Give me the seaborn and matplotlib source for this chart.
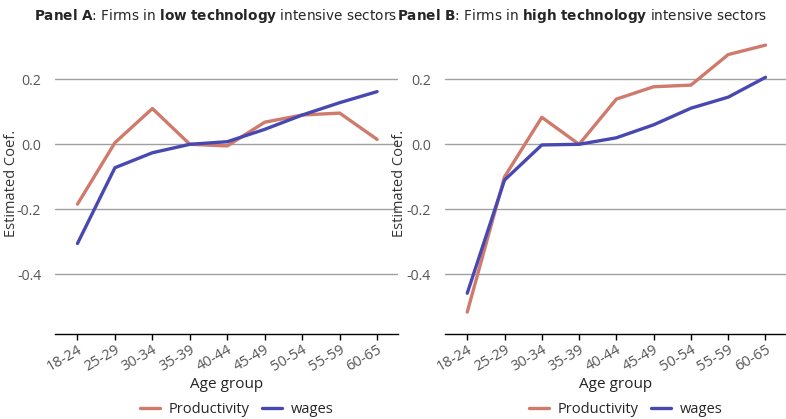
import matplotlib
matplotlib.use("Agg")
import matplotlib.pyplot as plt
import seaborn as sns
import pandas as pd

age_groups = ["18-24", "25-29", "30-34", "35-39", "40-44", "45-49", "50-54", "55-59", "60-65"]
prod_low = [-0.184, 0.005, 0.110, 0.0, -0.005, 0.068, 0.090, 0.096, 0.015]
wages_low = [-0.305, -0.072, -0.026, 0.0, 0.008, 0.046, 0.090, 0.128, 0.162]
prod_high = [-0.516, -0.100, 0.083, 0.0, 0.139, 0.177, 0.182, 0.276, 0.305]
wages_high = [-0.458, -0.110, -0.002, 0.0, 0.020, 0.060, 0.111, 0.145, 0.206]
series_names = ["Productivity", "wages"]
colors = {"Productivity": "#d07a6c", "wages": "#4848b2"}

sns.set_theme(style="white")
plt.rcParams["font.family"] = ["Open Sans", "DejaVu Sans"]
plt.rcParams["mathtext.fontset"] = "custom"
plt.rcParams["mathtext.rm"] = "DejaVu Sans"
plt.rcParams["mathtext.bf"] = "DejaVu Sans:bold"

def make_df(prod, wages):
    rows = []
    for i, a in enumerate(age_groups):
        rows.append({"age": i, "coef": prod[i], "series": series_names[0]})
        rows.append({"age": i, "coef": wages[i], "series": series_names[1]})
    return pd.DataFrame(rows)

fig = plt.figure(figsize=(7.86, 4.19), dpi=100)
ax1 = fig.add_axes([0.070, 0.204, 0.436, 0.717])
ax2 = fig.add_axes([0.566, 0.204, 0.434, 0.717])

for ax, prod, wages in [(ax1, prod_low, wages_low), (ax2, prod_high, wages_high)]:
    df = make_df(prod, wages)
    sns.lineplot(data=df, x="age", y="coef", hue="series", palette=colors,
                 linewidth=2.4, ax=ax)
    ax.set_xlim(-0.6, 8.55)
    ax.set_ylim(-0.582, 0.342)
    ax.set_yticks([-0.4, -0.2, 0.0, 0.2])
    ax.set_yticklabels(["-0.4", "-0.2", "0.0", "0.2"])
    ax.set_xticks(range(len(age_groups)))
    ax.set_xticklabels(age_groups, rotation=30, ha="right", rotation_mode="anchor")
    ax.yaxis.grid(True, color="#a0a0a0", linewidth=1.0)
    ax.set_axisbelow(True)
    for s in ["left", "right", "top"]:
        ax.spines[s].set_visible(False)
    ax.spines["bottom"].set_color("black")
    ax.spines["bottom"].set_linewidth(1.0)
    ax.tick_params(axis="x", bottom=True, length=4, width=1, color="black",
                   labelsize=10.5, labelcolor="#555555", pad=2)
    ax.tick_params(axis="y", left=False, labelsize=10.2, labelcolor="#555555", pad=4)
    ax.set_xlabel("Age group", fontsize=11, color="#222222", labelpad=2)
    ax.set_ylabel("Estimated Coef.", fontsize=10.5, color="#333333")
    ax.legend(loc="center", bbox_to_anchor=(0.53, -0.252), ncol=2,
              frameon=False, fontsize=10.5, handlelength=1.4, columnspacing=0.8,
              handletextpad=0.6, borderpad=0.1)

ax1.yaxis.set_label_coords(-0.105, 0.5)
ax2.yaxis.set_label_coords(-0.112, 0.5)

fig.text(0.274, 0.963, r"$\bf{Panel\ A}$: Firms in $\bf{low\ technology}$ intensive sectors",
         ha="center", va="center", fontsize=9.8, family="DejaVu Sans")
fig.text(0.741, 0.963, r"$\bf{Panel\ B}$: Firms in $\bf{high\ technology}$ intensive sectors",
         ha="center", va="center", fontsize=9.8, family="DejaVu Sans")

fig.savefig("out.png", dpi=100)
